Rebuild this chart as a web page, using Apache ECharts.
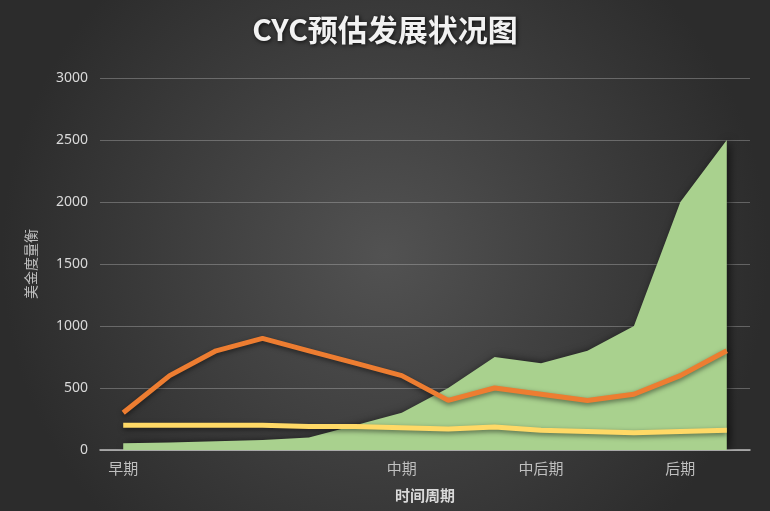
<!DOCTYPE html>
<html><head><meta charset="utf-8">
<script src="https://cdn.jsdelivr.net/npm/echarts@6/dist/echarts.min.js"></script>
<style>html,body{margin:0;padding:0;}#c{width:770px;height:511px;}</style>
</head><body><div id="c"></div>
<script>
var categories = ['早期','','','','','','中期','','','中后期','','','后期',''];
var areaValues = [55, 60, 70, 80, 100, 200, 300, 500, 750, 700, 800, 1000, 2000, 2500];
var orangeValues = [300, 600, 800, 900, 800, 700, 600, 400, 500, 450, 400, 450, 600, 800];
var yellowValues = [200, 200, 200, 200, 190, 190, 180, 170, 185, 160, 150, 140, 150, 160];
var yTicks = [0, 500, 1000, 1500, 2000, 2500, 3000];

var chart = echarts.init(document.getElementById('c'));
chart.setOption({
  backgroundColor: {
    type: 'radial', x: 0.5, y: 0.5, r: 0.75,
    colorStops: [{offset: 0, color: '#525252'}, {offset: 1, color: '#2c2c2c'}]
  },
  title: {
    text: 'CYC预估发展状况图', left: 'center', top: 10,
    textStyle: {color: '#f2f2f2', fontSize: 30, fontWeight: 'bold', fontFamily: 'Noto Sans CJK SC',
      textShadowColor: 'rgba(0,0,0,0.8)', textShadowBlur: 4, textShadowOffsetX: 1, textShadowOffsetY: 1}
  },
  grid: {left: 100, right: 20, top: 78, bottom: 61},
  xAxis: {
    type: 'category', data: categories, boundaryGap: true,
    name: '时间周期', nameLocation: 'middle', nameGap: 38,
    nameTextStyle: {color: '#d9d9d9', fontSize: 15, fontWeight: 'bold', fontFamily: 'Noto Sans CJK SC'},
    axisLine: {lineStyle: {color: '#bfbfbf', width: 1.5}},
    axisTick: {show: false},
    axisLabel: {color: '#bfbfbf', fontSize: 15, interval: 0, margin: 11, fontFamily: 'Noto Sans CJK SC'}
  },
  yAxis: {
    type: 'value', min: yTicks[0], max: yTicks[yTicks.length - 1], interval: 500,
    name: '美金度量衡', nameLocation: 'middle', nameGap: 62, nameRotate: 90,
    nameTextStyle: {color: '#bfbfbf', fontSize: 14, fontFamily: 'Noto Sans CJK SC'},
    axisLine: {show: false}, axisTick: {show: false},
    axisLabel: {color: '#d9d9d9', fontSize: 14, margin: 12, fontFamily: 'Noto Sans',
      formatter: function (v) { return String(v); }},
    splitLine: {lineStyle: {color: 'rgba(200,200,200,0.35)', width: 1}}
  },
  series: [
    {
      type: 'line', data: areaValues, symbol: 'none',
      lineStyle: {width: 0},
      areaStyle: {color: '#a9d18e', opacity: 1, shadowColor: 'rgba(0,0,0,0.6)', shadowBlur: 8, shadowOffsetX: 3, shadowOffsetY: 0},
      z: 1
    },
    {
      type: 'line', data: orangeValues, symbol: 'none',
      lineStyle: {color: '#ed7d31', width: 5, shadowColor: 'rgba(0,0,0,0.5)', shadowBlur: 5, shadowOffsetY: 2},
      z: 3
    },
    {
      type: 'line', data: yellowValues, symbol: 'none',
      lineStyle: {color: '#ffd966', width: 5, shadowColor: 'rgba(0,0,0,0.5)', shadowBlur: 5, shadowOffsetY: 2},
      z: 3
    }
  ]
});
</script></body></html>
